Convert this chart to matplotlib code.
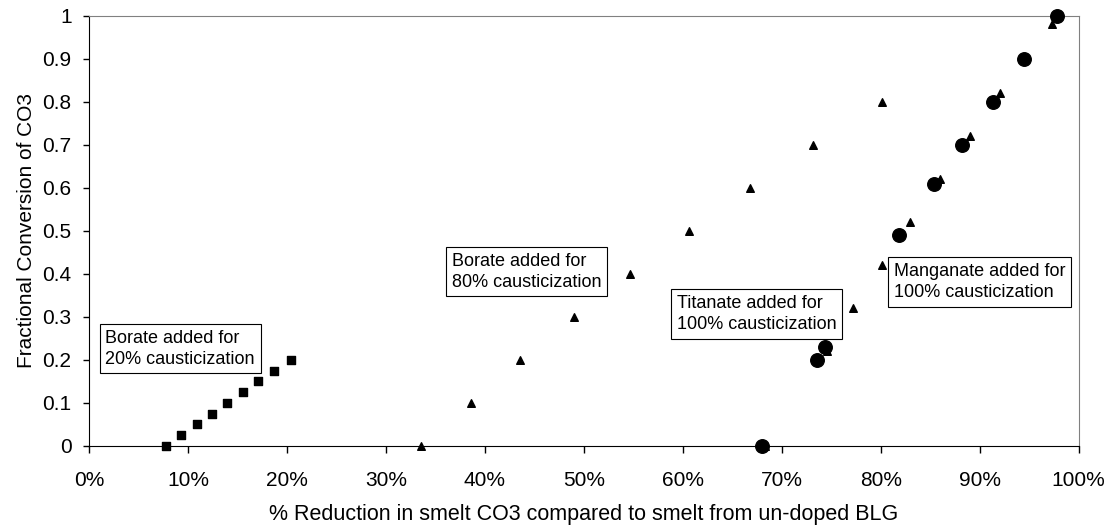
import matplotlib.pyplot as plt
from matplotlib.ticker import PercentFormatter

# Borate added for 20% causticization
borate20_x = [7.8, 9.3, 10.9, 12.4, 13.9, 15.6, 17.1, 18.7, 20.4]
borate20_y = [0, 0.025, 0.05, 0.075, 0.1, 0.125, 0.15, 0.175, 0.2]

# Borate added for 80% causticization
borate80_x = [33.6, 38.6, 43.6, 49.0, 54.7, 60.6, 66.8, 73.2, 80.1]
borate80_y = [0, 0.1, 0.2, 0.3, 0.4, 0.5, 0.6, 0.7, 0.8]

# Manganate added for 100% causticization
mang_x = [68.3, 74.6, 77.2, 80.1, 83.0, 86.0, 89.0, 92.1, 97.3]
mang_y = [0, 0.22, 0.32, 0.42, 0.52, 0.62, 0.72, 0.82, 0.98]

# Titanate added for 100% causticization
tit_x = [68.0, 73.6, 74.4, 81.8, 85.4, 88.2, 91.3, 94.5, 97.8]
tit_y = [0, 0.2, 0.23, 0.49, 0.61, 0.70, 0.80, 0.90, 1.0]

plt.rcParams['font.family'] = ['Liberation Sans', 'DejaVu Sans']
plt.rcParams['font.size'] = 15

fig = plt.figure(figsize=(11.12, 5.29), dpi=100)
ax = fig.add_axes([0.080, 0.157, 0.890, 0.813])

ax.scatter(borate20_x, borate20_y, marker='s', s=30, color='black', clip_on=False, zorder=3)
ax.scatter(borate80_x, borate80_y, marker='^', s=30, color='black', clip_on=False, zorder=3)
ax.scatter(mang_x, mang_y, marker='^', s=30, color='black', clip_on=False, zorder=3)
ax.scatter(tit_x, tit_y, marker='o', s=95, color='black', clip_on=False, zorder=4)

ax.set_xlim(0, 100)
ax.set_ylim(0, 1)
ax.set_xticks(range(0, 101, 10))
ax.xaxis.set_major_formatter(PercentFormatter(decimals=0))
ax.set_yticks([i / 10 for i in range(11)])
ax.set_yticklabels(['0'] + ['0.%d' % i for i in range(1, 10)] + ['1'])
ax.tick_params(direction='out', width=1, labelsize=15, color='black')
ax.tick_params(axis='x', length=5, pad=13)
ax.tick_params(axis='y', length=4.5, pad=8)

for side in ('top', 'right'):
    ax.spines[side].set_color('#808080')
for side in ('left', 'bottom'):
    ax.spines[side].set_color('black')

ax.set_xlabel('% Reduction in smelt CO3 compared to smelt from un-doped BLG', fontsize=15.5, labelpad=10)
ax.set_ylabel('Fractional Conversion of CO3', fontsize=15, labelpad=5)

box = dict(boxstyle='square,pad=0.32', fc='white', ec='black', lw=0.8)
notes = [
    (1.65, 0.226, 'Borate added for\n20% causticization'),
    (36.7, 0.405, 'Borate added for\n80% causticization'),
    (59.4, 0.307, 'Titanate added for\n100% causticization'),
    (81.3, 0.381, 'Manganate added for\n100% causticization'),
]
for x, y, s in notes:
    ax.text(x, y, s, ha='left', va='center', fontsize=13, bbox=box, linespacing=1.3, zorder=5)

fig.savefig('out.png', dpi=100)
